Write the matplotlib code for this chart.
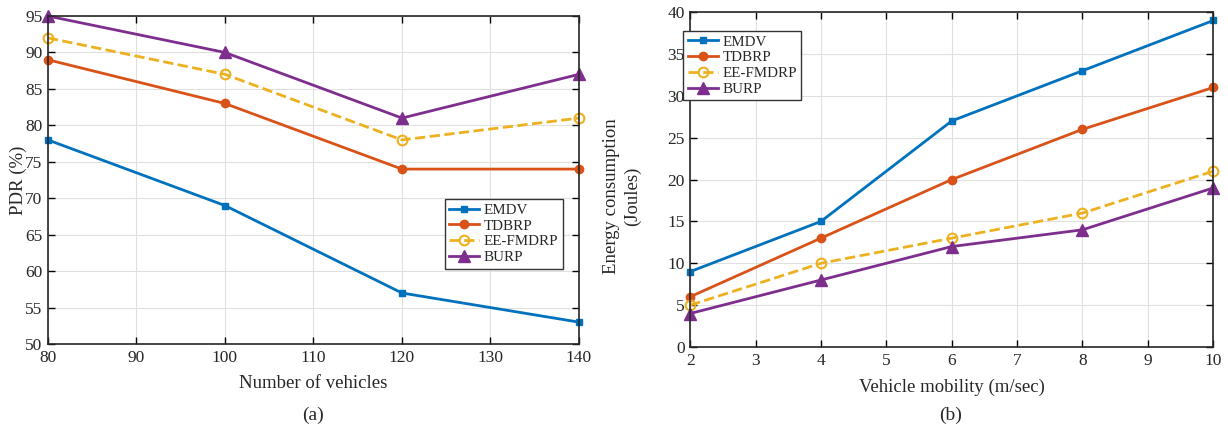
import matplotlib

matplotlib.use("Agg")

import matplotlib.pyplot as plt

plt.rcParams["font.family"] = ["Liberation Serif", "DejaVu Serif"]
plt.rcParams["font.size"] = 12.5
plt.rcParams["text.color"] = "#262626"
plt.rcParams["xtick.labelcolor"] = "#262626"
plt.rcParams["ytick.labelcolor"] = "#262626"
plt.rcParams["axes.labelcolor"] = "#262626"

SERIES = ["EMDV", "TDBRP", "EE-FMDRP", "BURP"]
COLORS = ["#0072BD", "#D95319", "#EDB120", "#7E2F8E"]

vehicles = [80, 100, 120, 140]
pdr_emdv = [78, 69, 57, 53]
pdr_tdbrp = [89, 83, 74, 74]
pdr_eefmdrp = [92, 87, 78, 81]
pdr_burp = [95, 90, 81, 87]

mobility = [2, 4, 6, 8, 10]
energy_emdv = [9, 15, 27, 33, 39]
energy_tdbrp = [6, 13, 20, 26, 31]
energy_eefmdrp = [5, 10, 13, 16, 21]
energy_burp = [4, 8, 12, 14, 19]


def draw_series(ax, x, ys):
    styles = [
        dict(marker="s", markersize=4, linestyle="-"),
        dict(marker="o", markersize=6, linestyle="-"),
        dict(marker="o", markersize=7, linestyle="--", markerfacecolor="none",
             markeredgewidth=1.5),
        dict(marker="^", markersize=8, linestyle="-"),
    ]
    for y, name, color, style in zip(ys, SERIES, COLORS, styles):
        ax.plot(x, y, color=color, linewidth=2, label=name, clip_on=False, **style)


def style_axes(ax):
    ax.grid(True, color="#e0e0e0", linewidth=0.8)
    ax.set_axisbelow(True)
    ax.tick_params(direction="in", length=5, width=1, top=True, right=True, pad=4)
    for spine in ax.spines.values():
        spine.set_linewidth(1.2)
        spine.set_color("#262626")


def add_legend(ax, **kw):
    ax.legend(fontsize=10.8, frameon=True, fancybox=False, edgecolor="#333333",
              framealpha=1, handlelength=2.0, borderpad=0.3, labelspacing=0.15,
              handletextpad=0.3, borderaxespad=0.0, **kw)


fig = plt.figure(figsize=(12.28, 4.33), dpi=100)

ax1 = fig.add_axes([0.039, 0.2055, 0.4325, 0.7575])
draw_series(ax1, vehicles, [pdr_emdv, pdr_tdbrp, pdr_eefmdrp, pdr_burp])
ax1.set_xlim(80, 140)
ax1.set_ylim(50, 95)
ax1.set_xticks(range(80, 141, 10))
ax1.set_yticks(range(50, 96, 5))
ax1.set_xlabel("Number of vehicles", fontsize=13.5, labelpad=7)
ax1.set_ylabel("PDR (%)", fontsize=13.5)
ax1.yaxis.set_label_coords(-0.04, 0.5)
style_axes(ax1)
add_legend(ax1, loc="lower right", bbox_to_anchor=(0.97, 0.23))
fig.text(0.255, 0.03, "(a)", ha="center", fontsize=14)

ax2 = fig.add_axes([0.562, 0.1986, 0.426, 0.7734])
draw_series(ax2, mobility, [energy_emdv, energy_tdbrp, energy_eefmdrp, energy_burp])
ax2.set_xlim(2, 10)
ax2.set_ylim(0, 40)
ax2.set_xticks(range(2, 11))
ax2.set_yticks(range(0, 41, 5))
ax2.set_xlabel("Vehicle mobility (m/sec)", fontsize=13.5, labelpad=7)
ax2.set_ylabel("Energy consumption\n(Joules)", fontsize=13.5, linespacing=1.35)
ax2.yaxis.set_label_coords(-0.093, 0.45)
style_axes(ax2)
add_legend(ax2, loc="upper left", bbox_to_anchor=(-0.013, 0.945))
fig.text(0.774, 0.03, "(b)", ha="center", fontsize=14)

fig.savefig("out.png", dpi=100)
